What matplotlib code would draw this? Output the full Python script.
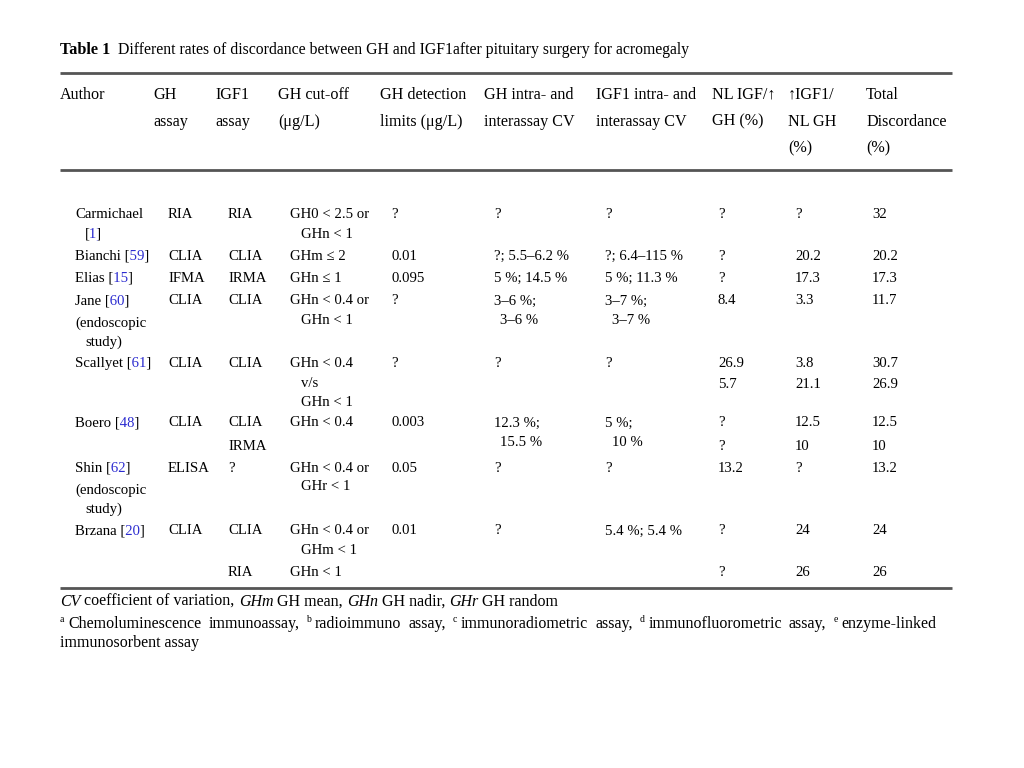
import re
import matplotlib
matplotlib.use("Agg")
import matplotlib.pyplot as plt
from matplotlib.lines import Line2D
from matplotlib.transforms import Bbox

# ---------------- data ----------------
title_label = "Table 1"
title_text = "Different rates of discordance between GH and IGF1after pituitary surgery for acromegaly"

headers = ["Author", "GH\nassay", "IGF1\nassay", "GH cut-off\n(\u03bcg/L)",
           "GH detection\nlimits (\u03bcg/L)", "GH intra- and\ninterassay CV",
           "IGF1 intra- and\ninterassay CV", "NL IGF/\u2191\nGH (%)",
           "\u2191IGF1/\nNL GH\n(%)", "Total\nDiscordance\n(%)"]

authors = ["Carmichael\n[1]", "Bianchi [59]", "Elias [15]", "Jane [60]\n(endoscopic\nstudy)",
           "Scallyet [61]", "", "Boero [48]", "", "Shin [62]\n(endoscopic\nstudy)",
           "Brzana [20]", ""]
gh_assay = ["RIA", "CLIA", "IFMA", "CLIA", "CLIA", "", "CLIA", "", "ELISA", "CLIA", ""]
igf1_assay = ["RIA", "CLIA", "IRMA", "CLIA", "CLIA", "", "CLIA", "IRMA", "?", "CLIA", "RIA"]
gh_cutoff = ["GH0 < 2.5 or\nGHn < 1", "GHm \u2264 2", "GHn \u2264 1", "GHn < 0.4 or\nGHn < 1",
             "GHn < 0.4\nv/s\nGHn < 1", "", "GHn < 0.4", "", "GHn < 0.4 or\nGHr < 1",
             "GHn < 0.4 or\nGHm < 1", "GHn < 1"]
gh_detection = ["?", "0.01", "0.095", "?", "?", "", "0.003", "", "0.05", "0.01", ""]
gh_cv = ["?", "?; 5.5\u20136.2 %", "5 %; 14.5 %", "3\u20136 %;\n3\u20136 %", "?", "",
         "12.3 %;\n15.5 %", "", "?", "?", ""]
igf1_cv = ["?", "?; 6.4\u2013115 %", "5 %; 11.3 %", "3\u20137 %;\n3\u20137 %", "?", "",
           "5 %;\n10 %", "", "?", "5.4 %; 5.4 %", ""]
nl_igf_up_gh = ["?", "?", "?", "8.4", "26.9", "5.7", "?", "?", "13.2", "?", "?"]
up_igf_nl_gh = ["?", "20.2", "17.3", "3.3", "3.8", "21.1", "12.5", "10", "?", "24", "26"]
total_disc = ["32", "20.2", "17.3", "11.7", "30.7", "26.9", "12.5", "10", "13.2", "24", "26"]

footnote1 = [("CV", "italic"), (" coefficient of variation, ", "normal"), ("GHm", "italic"),
             (" GH mean, ", "normal"), ("GHn", "italic"), (" GH nadir, ", "normal"),
             ("GHr", "italic"), (" GH random", "normal")]
footnote_items = [("a", "Chemoluminescence immunoassay,"), ("b", "radioimmuno assay,"),
                  ("c", "immunoradiometric assay,"), ("d", "immunofluorometric assay,"),
                  ("e", "enzyme-linked")]
footnote_last = "immunosorbent assay"

# ---------------- layout ----------------
W, H = 1024, 768
fig = plt.figure(figsize=(W / 100, H / 100), dpi=100)
fig.patch.set_facecolor("white")
renderer = fig.canvas.get_renderer()
FAM = ["Liberation Serif", "DejaVu Serif"]
BLUE = "#2b2bd0"
BODY = 10.6
HEAD = 11.6


def put(x, y, s, size=BODY, color="black", weight="normal", style="normal"):
    return fig.text(x / W, 1 - y / H, s, fontsize=size, color=color, fontweight=weight,
                    fontstyle=style, family=FAM, ha="left", va="center")


def wid(t):
    return t.get_window_extent(renderer).width


def measure(s, size=BODY, style="normal", weight="normal"):
    t = put(0, -100, s, size, style=style, weight=weight)
    w = wid(t)
    t.remove()
    return w


def space_w(size, style="normal"):
    return measure("n n", size, style) - measure("nn", size, style)


def put_segments(x, y, segs, size):
    """Draw styled segments one after another."""
    for s, style in segs:
        sp = space_w(size, "normal")
        lead = len(s) - len(s.lstrip(" "))
        trail = len(s) - len(s.rstrip(" "))
        core = s.strip(" ")
        x += lead * sp
        if core:
            t = put(x, y, core, size, style=style)
            x += wid(t)
        x += trail * sp


def put_ref_line(x, y, s, size=BODY):
    """Draw a line where reference numbers in [..] are blue and brackets black."""
    m = re.search(r"\[(\d+)\]", s)
    if not m:
        put(x, y, s, size)
        return
    xa = x + measure(s[:m.start(1)], size) + 0.3
    xb = x + measure(s[:m.end(1)], size) + 0.6
    pieces = [(0, xa, "black"), (xa, xb, BLUE), (xb, W, "black")]
    for a, b, c in pieces:
        t = put(x, y, s, size, color=c)
        t.set_clip_box(Bbox([[a, 1], [b, H - 1]]))
        t.set_clip_on(True)


def hline(y, x0=60, x1=952):
    fig.add_artist(Line2D([x0 / W, x1 / W], [1 - y / H] * 2, transform=fig.transFigure,
                          color="#555555", lw=2.0, solid_capstyle="butt"))


def fit_size(text, target, style="normal", weight="normal", start=11.0):
    return start * target / measure(text, start, style, weight)


# title
put(60, 50, title_label, 11.7, weight="bold")
put(118, 50, title_text, fit_size(title_text, 572))

# rules
hline(73)
hline(170)
hline(588)

# header
head_x = [60, 153, 215, 278, 380, 484, 596, 712, 788, 866]
for hx, htxt in zip(head_x, headers):
    for i, line in enumerate(htxt.split("\n")):
        put(hx, 95 + 26.5 * i, line, HEAD)

# body
body_x = [75, 168, 228, 290, 391, 494, 605, 718, 795, 872]
row_y = [215, 256, 278, 301, 364, 385, 423, 446, 468, 531, 572]
columns = [authors, gh_assay, igf1_assay, gh_cutoff, gh_detection, gh_cv, igf1_cv,
           nl_igf_up_gh, up_igf_nl_gh, total_disc]
indent = [10, 10, 10, 11, 10, 6, 7, 10, 10, 10]
LS = 19.0
for ci, (cx, col) in enumerate(zip(body_x, columns)):
    for ry, cell in zip(row_y, col):
        if not cell:
            continue
        for li, line in enumerate(cell.split("\n")):
            xx = cx
            if li > 0 and not line.startswith("("):
                xx += indent[ci]
            yy = ry + li * LS
            if ci == 0 and li > 0 and line.startswith("("):
                yy += 3
            if ci == 0 and li > 1:
                yy += 3
            if ci == 0:
                put_ref_line(xx, yy, line)
            else:
                put(xx, yy, line)

# footnotes
fn_size = fit_size("".join(s for s, _ in footnote1), 500)
put_segments(60, 602, footnote1, fn_size)

# justified footnote line
tokens = []
for letter, txt in footnote_items:
    tokens.append((letter, True))
    for w_ in txt.split(" "):
        tokens.append((w_, False))
fn2 = fn_size
sup = fn2 * 0.62
widths = [measure(tok, sup if is_sup else fn2) for tok, is_sup in tokens]
x0, x1 = 60, 952
gap = (x1 - x0 - sum(widths)) / (len(tokens) - 1)
xx = x0
for (tok, is_sup), w_ in zip(tokens, widths):
    if is_sup:
        put(xx, 619, tok, sup)
        xx += w_ + gap * 0.55
    else:
        put(xx, 624, tok, fn2)
        xx += w_ + gap
put(60, 643, footnote_last, fn2)

fig.savefig("out.png", dpi=100, facecolor="white")
